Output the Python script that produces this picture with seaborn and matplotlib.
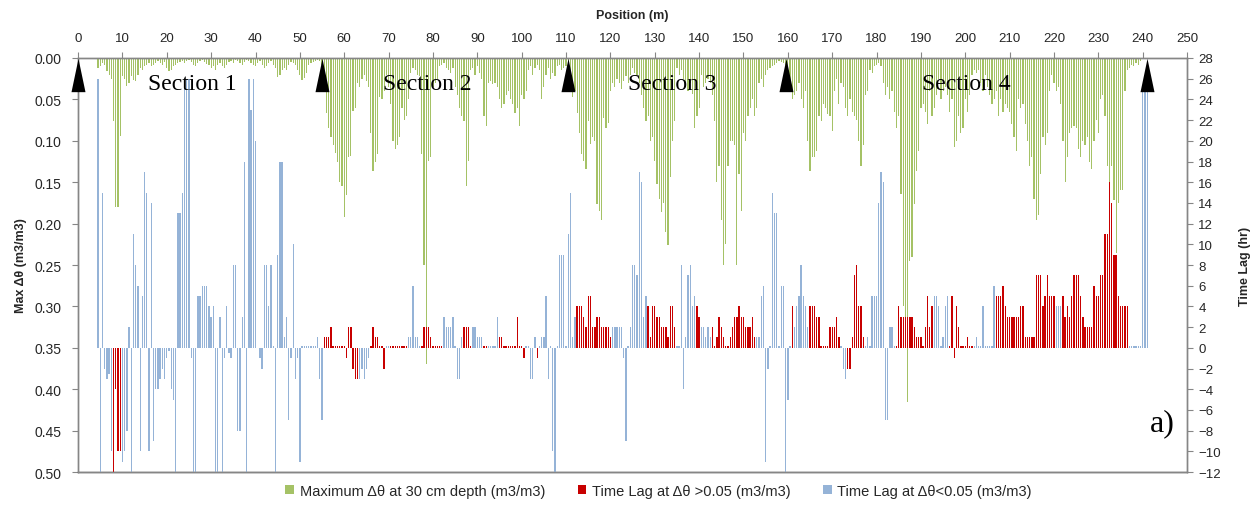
import numpy as np
import pandas as pd
import matplotlib
matplotlib.use("Agg")
import matplotlib.pyplot as plt
from matplotlib.patches import Patch
from matplotlib.ticker import FormatStrFormatter, MultipleLocator
import seaborn as sns

# Sampling positions along the transect (m), every 0.5 m
positions = np.arange(4.0, 242.0, 0.5)

# Maximum change in water content at 30 cm depth (m3/m3), in 10 m blocks
dtheta_04 = [0, 0.012, 0.010, 0.006, 0.008, 0.016, 0.020, 0.025, 0.076, 0.180, 0.180, 0.094]
dtheta_10 = [0.022, 0.025, 0.034, 0.030, 0.022, 0.026, 0.028, 0.020, 0.012, 0.014, 0.010, 0.008, 0.006, 0.010, 0.008, 0.006, 0.004, 0.006, 0.008, 0.005]
dtheta_20 = [0.012, 0.016, 0.014, 0.010, 0.008, 0.006, 0.005, 0.004, 0.006, 0.004, 0.003, 0.005, 0.008, 0.010, 0.006, 0.004, 0.003, 0.005, 0.007, 0.009]
dtheta_30 = [0.012, 0.010, 0.014, 0.008, 0.006, 0.010, 0.012, 0.008, 0.005, 0.004, 0.006, 0.003, 0.004, 0.006, 0.008, 0.005, 0.003, 0.004, 0.006, 0.008]
dtheta_40 = [0.010, 0.006, 0.004, 0.008, 0.012, 0.010, 0.006, 0.004, 0.008, 0.012, 0.023, 0.020, 0.014, 0.012, 0.014, 0.008, 0.005, 0.006, 0.008, 0.014]
dtheta_50 = [0.020, 0.027, 0.024, 0.018, 0.008, 0.006, 0.005, 0.004, 0.003, 0.004, 0.008, 0.035, 0.067, 0.085, 0.095, 0.105, 0.115, 0.125, 0.150, 0.155]
dtheta_60 = [0.192, 0.165, 0.120, 0.118, 0.064, 0.060, 0.030, 0.035, 0.025, 0.020, 0.028, 0.035, 0.090, 0.136, 0.125, 0.116, 0.047, 0.050, 0.040, 0.020]
dtheta_70 = [0.035, 0.055, 0.100, 0.110, 0.105, 0.095, 0.060, 0.075, 0.070, 0.050, 0.018, 0.012, 0.015, 0.020, 0.022, 0.116, 0.250, 0.370, 0.124, 0.120]
dtheta_80 = [0.035, 0.030, 0.025, 0.010, 0.008, 0.006, 0.012, 0.015, 0.018, 0.012, 0.035, 0.045, 0.060, 0.070, 0.076, 0.154, 0.124, 0.015, 0.012, 0.020]
dtheta_90 = [0.010, 0.018, 0.025, 0.070, 0.082, 0.030, 0.028, 0.032, 0.030, 0.035, 0.050, 0.060, 0.055, 0.045, 0.040, 0.050, 0.055, 0.067, 0.060, 0.082]
dtheta_100 = [0.045, 0.050, 0.040, 0.015, 0.010, 0.020, 0.012, 0.008, 0.015, 0.050, 0.035, 0.020, 0.012, 0.025, 0.018, 0.022, 0.010, 0.008, 0.015, 0.012]
dtheta_110 = [0.010, 0.008, 0.035, 0.047, 0.040, 0.067, 0.090, 0.116, 0.124, 0.134, 0.076, 0.104, 0.095, 0.100, 0.176, 0.185, 0.196, 0.072, 0.084, 0.078]
dtheta_120 = [0.040, 0.030, 0.035, 0.025, 0.030, 0.038, 0.028, 0.022, 0.030, 0.020, 0.012, 0.018, 0.020, 0.030, 0.045, 0.060, 0.076, 0.070, 0.100, 0.095]
dtheta_130 = [0.124, 0.152, 0.170, 0.186, 0.175, 0.210, 0.226, 0.144, 0.100, 0.076, 0.012, 0.020, 0.015, 0.025, 0.035, 0.040, 0.030, 0.043, 0.084, 0.070]
dtheta_140 = [0.060, 0.020, 0.035, 0.030, 0.025, 0.030, 0.045, 0.076, 0.150, 0.130, 0.196, 0.250, 0.225, 0.130, 0.100, 0.100, 0.105, 0.250, 0.140, 0.185]
dtheta_150 = [0.090, 0.100, 0.070, 0.060, 0.050, 0.070, 0.060, 0.030, 0.025, 0.035, 0.020, 0.015, 0.012, 0.010, 0.008, 0.006, 0.004, 0.005, 0.006, 0.008]
dtheta_160 = [0.010, 0.035, 0.050, 0.045, 0.040, 0.030, 0.050, 0.060, 0.040, 0.100, 0.136, 0.120, 0.120, 0.112, 0.070, 0.076, 0.055, 0.060, 0.068, 0.070]
dtheta_170 = [0.088, 0.040, 0.025, 0.055, 0.030, 0.035, 0.060, 0.070, 0.050, 0.065, 0.070, 0.075, 0.100, 0.130, 0.105, 0.045, 0.040, 0.015, 0.018, 0.010]
dtheta_180 = [0.008, 0.006, 0.010, 0.030, 0.045, 0.035, 0.050, 0.040, 0.065, 0.085, 0.070, 0.164, 0.300, 0.330, 0.415, 0.245, 0.240, 0.176, 0.136, 0.112]
dtheta_190 = [0.060, 0.055, 0.065, 0.080, 0.040, 0.070, 0.060, 0.045, 0.025, 0.050, 0.040, 0.035, 0.045, 0.065, 0.050, 0.108, 0.100, 0.070, 0.090, 0.085]
dtheta_200 = [0.050, 0.065, 0.045, 0.020, 0.015, 0.018, 0.015, 0.030, 0.040, 0.020, 0.035, 0.045, 0.055, 0.050, 0.040, 0.070, 0.050, 0.065, 0.055, 0.060]
dtheta_210 = [0.065, 0.080, 0.095, 0.112, 0.050, 0.060, 0.055, 0.080, 0.100, 0.130, 0.120, 0.170, 0.196, 0.190, 0.140, 0.095, 0.105, 0.090, 0.040, 0.020]
dtheta_220 = [0.030, 0.040, 0.035, 0.055, 0.100, 0.150, 0.120, 0.090, 0.085, 0.082, 0.085, 0.110, 0.120, 0.100, 0.105, 0.095, 0.125, 0.134, 0.100, 0.075]
dtheta_230 = [0.090, 0.050, 0.045, 0.070, 0.130, 0.165, 0.130, 0.172, 0.236, 0.175, 0.160, 0.160, 0.040, 0.015, 0.012, 0.008, 0.010, 0.006, 0.008, 0.004]
dtheta_240 = [0, 0, 0, 0]

# Time lag (hr) and its class: r = lag at dtheta > 0.05, b = lag at dtheta < 0.05
lag_04 = [0, 26, -12, 15, -2, -3, -2.5, -10, -12, -4, -10, -10]
cls_04 = ".bbbbbbbrrrr"
lag_10 = [-11, -10, -8, 2, -12, 11, 8, 6, -10, 5, 17, 15, -10, 14, -9, -4, -4, -3, -2, -3]
cls_10 = "bbbbbbbbbbbbbbbbbbbb"
lag_20 = [-1, -0.3, -4, -5, -12, 13, 13, 15, 26, 26, 26, -1, -12, -12, 5, 5, 6, 6, 6, 4]
cls_20 = "bbbbbbbbbbbbbbbbbbbb"
lag_30 = [3, 4, -12, -12, 3, -12, -1, 4, -0.5, -1, 8, 8, -8, -8, 3, 18, -12, 26, 23, 26]
cls_30 = "bbbbbbbbbbbbbbbbbbbb"
lag_40 = [20, 0, -1, -2, 8, 8, 4, 8, 0.15, -12, 9, 18, 18, 1, 3, -7, -1, 10, -3, -1]
cls_40 = "b.bbbbbbbbbbbbbbbbbb"
lag_50 = [-11, 0.15, 0.15, 0.15, 0.15, 0.15, 0.15, 0.15, 1, -3, -7, 1, 1, 1, 2, 0.2, 0.2, 0.2, 0.2, 0.2]
cls_50 = "bbbbbbbbbbbrrrrrrrrr"
lag_60 = [0.2, -1, 2, 2, -2, -3, -3, -3, -2, -3, -2, -1, 0.2, 2, 1, 1, 0.2, 0.2, -2, 0.15]
cls_60 = "rrrrrrrbbbbbrrrrrrrb"
lag_70 = [0.15, 0.2, 0.2, 0.2, 0.2, 0.2, 0.2, 0.2, 0.2, 1, 1, 6, 1, 1, 0.15, 0.2, 2, 2, 2, 1]
cls_70 = "brrrrrrrrbbbbbbrrrrr"
lag_80 = [0.2, 0.2, 0.2, 0.2, 0.2, 3, 2, 2, 2, 3, 0.15, -3, -3, 1, 2, 2, 2, 0.2, 2, 2]
cls_80 = "rrrrrbbbbbbbbbrrrrbb"
lag_90 = [1, 1, 1, 0.2, 0.2, 0.15, 0.15, 0.15, 0.15, 3, 1, 1, 0.2, 0.2, 0.2, 0.2, 0.2, 0.2, 3, 0.2]
cls_90 = "bbbrrbbbbbrrrrrrrrrr"
lag_100 = [0.2, -1, 0.15, 0.15, -3, -3, 1, -1, 0.15, 1, 1, 5, -3, 0.15, -10, -12, 0.15, 9, 9, 9]
cls_100 = "rrbbbbbrbbbbbbbbbbbb"
lag_110 = [0.15, 11, 15, 1, 3, 4, 4, 4, 3, 2, 5, 5, 2, 2, 3, 3, 2, 2, 2, 2]
cls_110 = "bbbbbrrrrrrrrrrrrrrr"
lag_120 = [1, 2, 2, 2, 2, 2, -1, -9, 0.15, 2, 8, 8, 7, 17, 16, 3, 5, 4, 1, 4]
cls_120 = "rbbbbbbbbbbbbbbbbrrr"
lag_130 = [4, 3, 3, 2, 2, 2, 1, 4, 4, 2, 0.15, 0.15, 8, -4, 1, 7, 8, 4, 5, 4]
cls_130 = "rrrrrrrrrrbbbbbbbbbr"
lag_140 = [3, 2, 2, 1, 2, 1, 2, 0.2, 1, 3, 2, 1, 0.2, 0.2, 1, 2, 3, 3, 4, 3]
cls_140 = "rbbbbbrrrrrrrrrrrrrr"
lag_150 = [3, 2, 2, 2, 3, 1, 1, 1, 5, 6, -11, -2, 0.15, 15, 13, 13, 0.15, 6, 6, -12]
cls_150 = "rrrrrrbbbbbbbbbbbbbb"
lag_160 = [-5, 0.15, 4, 2, 4, 5, 8, 5, 4, 2, 4, 4, 4, 3, 3, 0.2, 0.2, 0.2, 0.2, 2]
cls_160 = "bbrbbbbbbbrrrrrrrrrr"
lag_170 = [2, 2, 3, 1, 0.15, -2, -3, -2, -2, 1, 7, 8, 4, 4, 1, 0.15, 1, 0.15, 5, 5]
cls_170 = "rrrrbbbrrrrrrrrbbbbb"
lag_180 = [5, 14, 17, 16, -7, -7, 2, 2, 0.15, 0.2, 4, 3, 3, 3, 3, 3, 3, 2, 1, 1]
cls_180 = "bbbbbbbbbrrrrrrrrrrr"
lag_190 = [1, 0.2, 2, 5, 2, 4, 5, 5, 4, 0.15, 1, 4, 5, 0.2, 5, -1, 4, 2, 0.2, 0.2]
cls_190 = "rrrrrrbbbbbbbrrrrrrr"
lag_200 = [0.2, 1, 0.2, 0.2, 0.15, 1, 0.15, 0.15, 4, 0.15, 0.15, 0.15, 0.15, 6, 5, 5, 5, 6, 4, 3]
cls_200 = "rrrrbbbbbbbbbbrrrrrr"
lag_210 = [3, 3, 3, 3, 3, 4, 4, 1, 1, 1, 1, 1, 7, 7, 7, 4, 5, 7, 5, 5]
cls_210 = "rrrrrrrrrrrrrrrrrrrr"
lag_220 = [5, 4, 4, 4, 5, 3, 4, 3, 5, 7, 7, 7, 5, 3, 2, 2, 2, 2, 6, 5]
cls_220 = "rbbbrrrrrrrrrrrrrrrr"
lag_230 = [5, 7, 7, 11, 11, 16, 14, 9, 9, 5, 4, 4, 4, 4, 0.15, 0.15, 0.15, 0.15, 0.15, 0.15]
cls_230 = "rrrrrrrrrrrrrrbbbbbb"
lag_240 = [25, 25, 25, 0]
cls_240 = "bbb."

blocks = ["04"] + [str(b) for b in range(10, 250, 10)]
g = globals()
dtheta = np.concatenate([g["dtheta_" + b] for b in blocks])
lag = np.concatenate([g["lag_" + b] for b in blocks])
lag_cls = list("".join(g["cls_" + b] for b in blocks))
assert len(dtheta) == len(positions) == len(lag) == len(lag_cls)

section_names = ["Section 1", "Section 2", "Section 3", "Section 4"]
section_label_x = [25.7, 78.8, 133.9, 200.2]
section_bounds = [0, 55, 110.5, 159.5, 241]

GREEN = "#a5c266"
RED = "#c80000"
BLUE = "#95b3d7"
GRID = "#868686"
TEXT = "#262626"

sns.set_theme(style="white")
plt.rcParams["font.family"] = ["Liberation Sans", "DejaVu Sans"]

fig = plt.figure(figsize=(12.57, 5.06), dpi=100)
ax = fig.add_axes([0.0621, 0.0652, 0.8823, 0.8182])

green_df = pd.DataFrame({"pos": positions, "dtheta": dtheta})
green_df = green_df[green_df["dtheta"] > 0]
sns.barplot(data=green_df, x="pos", y="dtheta", native_scale=True, width=0.55,
            color=GREEN, saturation=1, errorbar=None, linewidth=0, ax=ax)

ax2 = ax.twinx()
lag_df = pd.DataFrame({"pos": positions, "lag": lag, "cls": lag_cls})
lag_df = lag_df[lag_df["lag"] != 0]
sns.barplot(data=lag_df, x="pos", y="lag", hue="cls", palette={"r": RED, "b": BLUE},
            dodge=False, native_scale=True, width=0.6, saturation=1, errorbar=None,
            linewidth=0, legend=False, ax=ax2)

# Axes ranges: left axis inverted, 0 hr of the lag axis sits at 0.35
ax.set_xlim(0, 250)
ax.set_ylim(0.5, 0.0)
ax2.set_ylim(-12, 28)

ax.xaxis.set_major_locator(MultipleLocator(10))
ax.yaxis.set_major_locator(MultipleLocator(0.05))
ax.yaxis.set_major_formatter(FormatStrFormatter("%.2f"))
ax2.yaxis.set_major_locator(MultipleLocator(2))

ax.xaxis.set_ticks_position("top")
ax.xaxis.set_label_position("top")
ax.tick_params(axis="x", top=True, bottom=False, labeltop=True, labelbottom=False,
               direction="out", length=4, width=0.8, color=GRID, labelsize=9.5,
               labelcolor=TEXT, pad=6)
ax.tick_params(axis="y", left=True, direction="out", length=4, width=0.8, color=GRID,
               labelsize=10, labelcolor=TEXT, pad=8)
ax2.tick_params(axis="y", right=True, direction="out", length=4, width=0.8, color=GRID,
                labelsize=9.5, labelcolor=TEXT, pad=4)

for a in (ax, ax2):
    for sp in a.spines.values():
        sp.set_visible(True)
        sp.set_color(GRID)
        sp.set_linewidth(1.0)
ax.spines["bottom"].set_color("#404040")

ax.set_xlabel("Position (m)", fontsize=9, fontweight="bold", color=TEXT, labelpad=10)
ax.set_ylabel("Max Δθ (m3/m3)", fontsize=9, fontweight="bold", color=TEXT, labelpad=5)
ax2.set_ylabel("Time Lag (hr)", fontsize=9, fontweight="bold", color=TEXT, labelpad=13)

# Section boundary markers and section names
tri = [(-0.21, -0.5), (0.21, -0.5), (0.0, 0.5)]
ax2.scatter(section_bounds, [26.35] * len(section_bounds), marker=tri, s=24 ** 2,
            color="black", linewidths=0, zorder=6, clip_on=False)
for name, xc in zip(section_names, section_label_x):
    ax2.text(xc, 0.031, name, transform=ax.transData, ha="center", va="center",
             fontsize=17, family="Liberation Serif", color="black", zorder=7)
ax2.text(244.5, 0.441, "a)", transform=ax.transData, ha="center", va="center",
         fontsize=23, family="Liberation Serif", color="black", zorder=7)

handles = [Patch(facecolor=GREEN, edgecolor="none"),
           Patch(facecolor=RED, edgecolor="none"),
           Patch(facecolor=BLUE, edgecolor="none")]
labels = ["Maximum Δθ at 30 cm depth (m3/m3)",
          "Time Lag at Δθ >0.05 (m3/m3)",
          "Time Lag at Δθ<0.05 (m3/m3)"]
fig.legend(handles, labels, loc="center", bbox_to_anchor=(0.524, 0.028), ncol=3,
           frameon=False, fontsize=10.5, handlelength=0.6, handleheight=0.6,
           handletextpad=0.4, columnspacing=2.2, labelcolor=TEXT)

fig.savefig("out.png", dpi=100)
